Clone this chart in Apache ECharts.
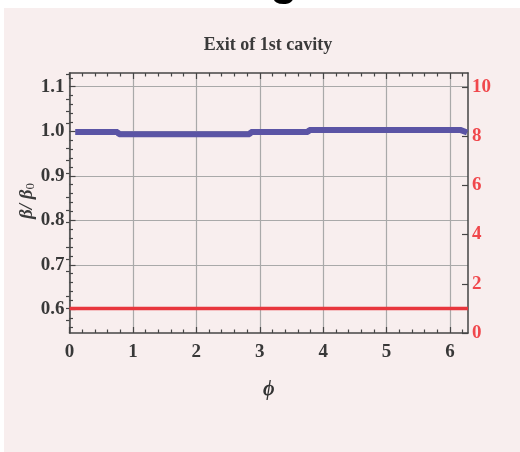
<!DOCTYPE html>
<html><head><meta charset="utf-8">
<script src="https://cdn.jsdelivr.net/npm/echarts@6/dist/echarts.min.js"></script>
<style>html,body{margin:0;padding:0;background:#fff}#c{width:520px;height:452px}</style>
</head><body><div id="c"></div>
<script>
const chartTitle = 'Exit of 1st cavity';
const xName = 'ϕ';
// blue series: beta/beta0 vs phi
const phi = [0.09, 0.76, 0.78, 2.84, 2.86, 3.76, 3.78, 6.16, 6.27];
const beta = [0.998, 0.998, 0.993, 0.993, 0.998, 0.998, 1.003, 1.003, 0.997];
// red series (right axis)
const redPhi = [0, 6.2832];
const redVal = [1, 1];
// ticks
const xTicks = [0, 1, 2, 3, 4, 5, 6];
const xMinor = [0.2,0.4,0.6,0.8,1.2,1.4,1.6,1.8,2.2,2.4,2.6,2.8,3.2,3.4,3.6,3.8,4.2,4.4,4.6,4.8,5.2,5.4,5.6,5.8,6.2];
const leftTicks = [0.6, 0.7, 0.8, 0.9, 1.0, 1.1];
const leftMinor = [0.56,0.58,0.62,0.64,0.66,0.68,0.72,0.74,0.76,0.78,0.82,0.84,0.86,0.88,0.92,0.94,0.96,0.98,1.02,1.04,1.06,1.08,1.12];
const rightTicks = [0, 2, 4, 6, 8, 10];
const rightMinor = [0.5,1,1.5,2.5,3,3.5,4.5,5,5.5,6.5,7,7.5,8.5,9,9.5,10.5];

const X_MIN = 0, X_MAX = 6.2832;
const YL_MIN = 0.5468, YL_MAX = 1.1308;
const YR_MIN = 0, YR_MAX = 10.56;

const frame = '#454545';
const serif = 'Liberation Serif';
const gridBox = {left: 69.5, right: 52, top: 73, bottom: 119};

function tickAxis(extra) {
  return Object.assign({
    type: 'value',
    axisLine: {show: true, onZero: false, lineStyle: {color: frame, width: 1.5}},
    axisLabel: {show: false},
    splitLine: {show: false}
  }, extra);
}

const chart = echarts.init(document.getElementById('c'), null, {renderer: 'canvas'});
chart.setOption({
  backgroundColor: '#ffffff',
  animation: false,
  graphic: [
    {type: 'rect', z: -10, shape: {x: 4, y: 8, width: 516, height: 444}, style: {fill: '#f8eeee'}},
    {type: 'text', z: -5, x: 284, y: 5, style: {text: 'g', font: 'bold 44px Liberation Sans', fill: '#000', align: 'center', verticalAlign: 'bottom'}},
    {type: 'text', x: 268, y: 45, style: {text: chartTitle, font: 'bold 18px ' + serif, fill: '#3a3a3a', align: 'center', verticalAlign: 'middle'}},
    {type: 'text', x: 27, y: 201, rotation: Math.PI / 2, style: {
      text: '{b|β/ β}{s|0}', align: 'center', verticalAlign: 'middle',
      rich: {b: {font: 'italic bold 19px ' + serif, fill: '#3a3a3a'}, s: {font: '13px ' + serif, fill: '#3a3a3a', padding: [8, 0, 0, 0]}}
    }}
  ],
  grid: [
    Object.assign({containLabel: false}, gridBox),
    Object.assign({containLabel: false}, gridBox)
  ],
  xAxis: [
    tickAxis({
      gridIndex: 0, position: 'bottom', min: X_MIN, max: X_MAX,
      axisTick: {inside: true, length: 6, customValues: xTicks, lineStyle: {color: frame, width: 1.2}},
      axisLabel: {show: true, customValues: xTicks, margin: 10, fontFamily: serif, fontWeight: 'bold', fontSize: 19, color: '#383838'},
      splitLine: {show: true, lineStyle: {color: '#a9a9a9', width: 1.2}},
      name: xName, nameLocation: 'middle', nameGap: 47,
      nameTextStyle: {fontFamily: serif, fontStyle: 'italic', fontWeight: 'bold', fontSize: 20, color: '#333'}
    }),
    tickAxis({
      gridIndex: 0, position: 'top', min: X_MIN, max: X_MAX,
      axisTick: {inside: true, length: 6, customValues: xTicks, lineStyle: {color: frame, width: 1.2}}
    }),
    tickAxis({
      gridIndex: 1, position: 'bottom', min: X_MIN, max: X_MAX,
      axisLine: {show: false},
      axisTick: {inside: true, length: 3.5, customValues: xMinor, lineStyle: {color: frame, width: 1.2}}
    }),
    tickAxis({
      gridIndex: 1, position: 'top', min: X_MIN, max: X_MAX,
      axisLine: {show: false},
      axisTick: {inside: true, length: 3.5, customValues: xMinor, lineStyle: {color: frame, width: 1.2}}
    })
  ],
  yAxis: [
    tickAxis({
      gridIndex: 0, position: 'left', min: YL_MIN, max: YL_MAX,
      axisTick: {inside: true, length: 6, customValues: leftTicks, lineStyle: {color: frame, width: 1.2}},
      axisLabel: {show: true, customValues: leftTicks, margin: 5, fontFamily: serif, fontWeight: 'bold', fontSize: 19, color: '#383838',
        formatter: v => v.toFixed(1)},
      splitLine: {show: true, lineStyle: {color: '#a9a9a9', width: 1.2}}
    }),
    tickAxis({
      gridIndex: 0, position: 'right', min: YR_MIN, max: YR_MAX,
      axisTick: {inside: true, length: 6, customValues: rightTicks, lineStyle: {color: frame, width: 1.2}},
      axisLabel: {show: true, customValues: rightTicks, margin: 4, fontFamily: serif, fontWeight: 'bold', fontSize: 19, color: '#f0474c'}
    }),
    tickAxis({
      gridIndex: 1, position: 'left', min: YL_MIN, max: YL_MAX,
      axisLine: {show: false},
      axisTick: {inside: true, length: 3.5, customValues: leftMinor, lineStyle: {color: frame, width: 1.2}}
    }),
    tickAxis({
      gridIndex: 1, position: 'right', min: YR_MIN, max: YR_MAX,
      axisLine: {show: false},
      axisTick: {inside: true, length: 3.5, customValues: rightMinor, lineStyle: {color: frame, width: 1.2}}
    })
  ],
  series: [
    {
      type: 'line', xAxisIndex: 0, yAxisIndex: 1, showSymbol: false, silent: true,
      data: redPhi.map((p, i) => [p, redVal[i]]),
      lineStyle: {color: '#e8363d', width: 3.5}, z: 3
    },
    {
      type: 'line', xAxisIndex: 0, yAxisIndex: 0, showSymbol: false, silent: true,
      data: phi.map((p, i) => [p, beta[i]]),
      lineStyle: {color: '#5b54a5', width: 6, cap: 'butt'}, z: 4
    }
  ]
});
</script>
</body></html>
